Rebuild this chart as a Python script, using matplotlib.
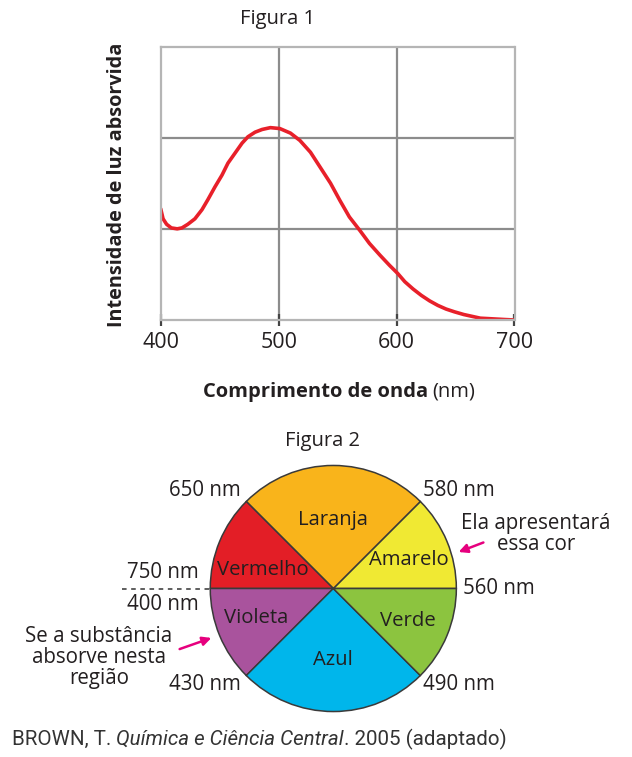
import matplotlib
matplotlib.use("Agg")
import matplotlib.pyplot as plt

plt.rcParams['font.family'] = ['Open Sans', 'DejaVu Sans']

# Figura 1: curva de absorcao
comprimento = [400, 402, 405, 409, 414, 418, 423, 429, 435, 440, 446, 452, 457,
               463, 469, 474, 480, 486, 493, 501, 510, 518, 527, 535, 544, 552,
               560, 569, 577, 586, 594, 601, 607, 614, 621, 628, 635, 642, 649,
               657, 664, 671, 678, 685, 692, 700]
intensidade = [1.22, 1.11, 1.05, 1.01, 1.00, 1.01, 1.05, 1.11, 1.21, 1.32, 1.46,
               1.59, 1.72, 1.83, 1.94, 2.01, 2.06, 2.09, 2.11, 2.10, 2.05, 1.97,
               1.84, 1.68, 1.50, 1.31, 1.13, 0.98, 0.84, 0.71, 0.60, 0.51, 0.42,
               0.34, 0.27, 0.21, 0.16, 0.12, 0.09, 0.06, 0.04, 0.02, 0.015, 0.01,
               0.005, 0.0]
xticks = [400, 500, 600, 700]

# Figura 2: roda de cores
cores_nomes = ['Amarelo', 'Laranja', 'Vermelho', 'Violeta', 'Azul', 'Verde']
cores_angulos = [45, 90, 45, 45, 90, 45]
cores_hex = ['#f0e933', '#f9b41b', '#e31e26', '#a9539d', '#00b6eb', '#8cc43f']
limites = ['560 nm', '580 nm', '650 nm', '750 nm', '400 nm', '430 nm', '490 nm']

W, H = 632, 757
TXT = '#231f20'
PINK = '#e6007e'


def fx(x):
    return x / W


def fy(y):
    return 1 - y / H


fig = plt.figure(figsize=(W / 100, H / 100), dpi=100)

# ---------------- Figura 1 ----------------
ax = fig.add_axes([fx(160.7), fy(320), (514.5 - 160.7) / W, (320 - 46.5) / H])
ax.plot(comprimento, intensidade, color='#e8202a', lw=2.6,
        solid_capstyle='round', solid_joinstyle='round')
ax.set_xlim(400, 700)
ax.set_ylim(0, 3)
ax.set_xticks(xticks)
ax.set_yticks([])
for v in [500, 600]:
    ax.axvline(v, color='#8c8c8c', lw=1.6, zorder=0)
for v in [1, 2]:
    ax.axhline(v, color='#8c8c8c', lw=1.6, zorder=0)
for s in ax.spines.values():
    s.set_color('#b5b5b5')
    s.set_linewidth(1.6)
ax.tick_params(axis='x', direction='inout', length=9, width=1.6, color='#444444',
               labelsize=15.5, labelcolor=TXT, pad=4)

fig.text(fx(278), fy(19), 'Figura 1', ha='center', va='center', fontsize=14.5, color=TXT)
fig.text(fx(117), fy(185), 'Intensidade de luz absorvida', rotation=90, ha='center',
         va='center', fontsize=14.3, fontweight='bold', color=TXT)
fig.text(fx(428), fy(392), 'Comprimento de onda', ha='right', va='center',
         fontsize=14.5, fontweight='bold', color=TXT)
fig.text(fx(432), fy(392), '(nm)', ha='left', va='center', fontsize=14.5, color=TXT)

# ---------------- Figura 2 ----------------
R = 125.5
cx, cy = 333.3, 588.5
ax2 = fig.add_axes([fx(cx - R), fy(cy + R), 2 * R / W, 2 * R / H])
ax2.pie(cores_angulos, colors=cores_hex, startangle=0, counterclock=True, radius=1,
        wedgeprops=dict(edgecolor='#3a3a3a', linewidth=1.1))
ax2.set_xlim(-1.02, 1.02)
ax2.set_ylim(-1.02, 1.02)
ax2.set_aspect('equal')
ax2.axis('off')

pos_nomes = [(0.61, 0.235), (0.0, 0.56), (-0.57, 0.15), (-0.63, -0.24),
             (0.0, -0.58), (0.61, -0.265)]
for nome, (u, v) in zip(cores_nomes, pos_nomes):
    ax2.text(u, v, nome, ha='center', va='center', fontsize=14.6, color=TXT)

# linha tracejada 750/400
ax2.plot([-1.72, -1.0], [0, 0], ls=(0, (3, 3)), color='#333333', lw=1.1, clip_on=False)

pos_limites = [(463, 589, 'left'), (423, 490, 'left'), (241, 490, 'right'),
               (199, 573, 'right'), (199, 605, 'right'), (241, 685, 'right'),
               (423, 685, 'left')]
for lab, (x, y, ha) in zip(limites, pos_limites):
    fig.text(fx(x), fy(y), lab, ha=ha, va='center', fontsize=14.8, color=TXT)

fig.text(fx(322), fy(441), 'Figura 2', ha='center', va='center', fontsize=14.5, color=TXT)

fig.text(fx(536), fy(534), 'Ela apresentará\nessa cor', ha='center', va='center',
         fontsize=14.8, color=TXT, linespacing=1.0)
fig.text(fx(99), fy(657.5), 'Se a substância\nabsorve nesta\nregião', ha='center',
         va='center', fontsize=14.8, color=TXT, linespacing=1.0)

fig.add_artist(matplotlib.patches.FancyArrowPatch(
    (fx(486), fy(541.5)), (fx(456), fy(553)), transform=fig.transFigure,
    arrowstyle='-|>', mutation_scale=13, color=PINK, lw=1.8))
fig.add_artist(matplotlib.patches.FancyArrowPatch(
    (fx(177), fy(650)), (fx(214), fy(637)), transform=fig.transFigure,
    arrowstyle='-|>', mutation_scale=13, color=PINK, lw=1.8))

# referencia
cit_fam = ['Liberation Sans Narrow', 'Roboto', 'DejaVu Sans']
partes = [('BROWN, T. ', 'normal'), ('Química e Ciência Central', 'italic'),
          ('. 2005 (adaptado)', 'normal')]
renderer = fig.canvas.get_renderer()
x0 = 12
for txt, st in partes:
    t = fig.text(fx(x0), fy(739), txt, ha='left', va='center', fontsize=14.8,
                 style=st, color='#333333', family=cit_fam)
    bb = t.get_window_extent(renderer=renderer)
    x0 += bb.width

fig.savefig('out.png', dpi=100)
